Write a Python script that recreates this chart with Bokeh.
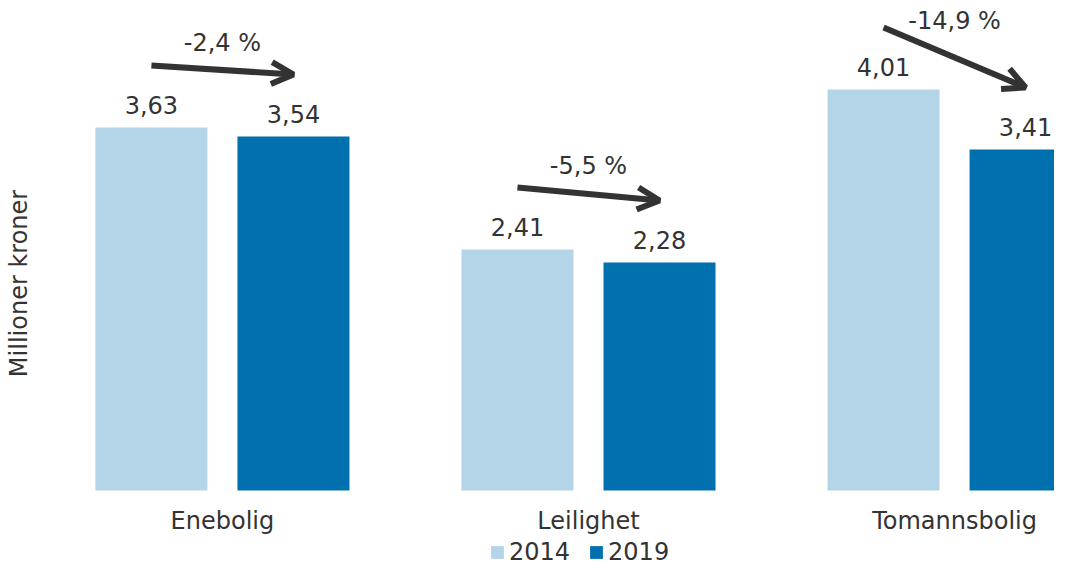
from bokeh.plotting import figure
from bokeh.models import ColumnDataSource, Range1d, Arrow, OpenHead, Legend, LegendItem, FixedTicker
from bokeh.core.properties import value
from bokeh.embed import file_html
from bokeh.resources import INLINE

categories = ["Enebolig", "Leilighet", "Tomannsbolig"]
years = ["2014", "2019"]
values_2014 = [3.63, 2.41, 4.01]
values_2019 = [3.54, 2.28, 3.41]
change_labels = ["-2,4 %", "-5,5 %", "-14,9 %"]
y_title = "Millioner kroner"

LIGHT = "#b4d5e7"
DARK = "#0070af"
TEXT = "#333333"
FONT = "DejaVu Sans"
FS = "24px"

def fmt(v):
    return f"{v:.2f}".replace(".", ",")

xs = list(range(len(categories)))
off = 0.194
bw = 0.306
x1 = [x - off for x in xs]
x2 = [x + off for x in xs]

src1 = ColumnDataSource(dict(x=x1, top=values_2014, ly=[v + 0.23 for v in values_2014],
                             lab=[fmt(v) for v in values_2014]))
src2 = ColumnDataSource(dict(x=x2, top=values_2019, ly=[v + 0.23 for v in values_2019],
                             lab=[fmt(v) for v in values_2019]))

p = figure(width=1054, height=566, output_backend="svg", toolbar_location=None,
           x_range=Range1d(-0.497, 2.273), y_range=Range1d(-0.76, 4.90),
           min_border_left=40, min_border_right=0, min_border_top=0, min_border_bottom=0)
p.outline_line_color = None
p.grid.visible = False
p.xaxis.visible = False
p.yaxis.ticker = FixedTicker(ticks=[])
p.yaxis.axis_label = y_title
p.yaxis.axis_label_text_font = FONT
p.yaxis.axis_label_text_font_size = FS
p.yaxis.axis_label_text_font_style = "normal"
p.yaxis.axis_label_text_color = TEXT
p.yaxis.axis_label_standoff = 8
p.yaxis.major_tick_line_color = None
p.yaxis.minor_tick_line_color = None
p.yaxis.axis_line_color = None

r1 = p.vbar(x="x", top="top", bottom=0, width=bw, source=src1, fill_color=LIGHT, line_color=None)
r2 = p.vbar(x="x", top="top", bottom=0, width=bw, source=src2, fill_color=DARK, line_color=None)

for src in (src1, src2):
    p.text(x="x", y="ly", text="lab", source=src, text_align="center", text_baseline="middle",
           text_font=value(FONT), text_font_size=FS, text_color=TEXT)

# category labels
p.text(x=xs, y=[-0.30] * len(xs), text=categories, text_align="center", text_baseline="middle",
       text_font=value(FONT), text_font_size=FS, text_color=TEXT)

# arrows from the 2014 bar to the 2019 bar
lift = 0.62
ys = [v + lift for v in values_2014]
ye = [v + lift for v in values_2019]
asrc = ColumnDataSource(dict(x0=x1, y0=ys, x1=x2, y1=ye))
p.add_layout(Arrow(source=asrc, x_start="x0", y_start="y0", x_end="x1", y_end="y1",
                   line_color=TEXT, line_width=6,
                   end=OpenHead(size=22, line_width=6, line_color=TEXT)))
label_y = [(a + b) / 2 + 0.25 + 0.2 * (a - b) for a, b in zip(ys, ye)]
p.text(x=[(a + b) / 2 for a, b in zip(x1, x2)], y=label_y,
       text=change_labels, text_align="center", text_baseline="middle",
       text_font=value(FONT), text_font_size=FS, text_color=TEXT)

legend = Legend(items=[LegendItem(label=years[0], renderers=[r1]),
                       LegendItem(label=years[1], renderers=[r2])],
                orientation="horizontal", location=(449, 0))
legend.border_line_color = None
legend.background_fill_alpha = 0
legend.padding = 0
legend.margin = 0
legend.spacing = 18
legend.glyph_width = 16
legend.glyph_height = 16
legend.label_standoff = 4
legend.label_text_font = FONT
legend.label_text_font_size = FS
legend.label_text_color = TEXT
p.add_layout(legend)

open("out.html", "w").write(file_html(p, INLINE))
